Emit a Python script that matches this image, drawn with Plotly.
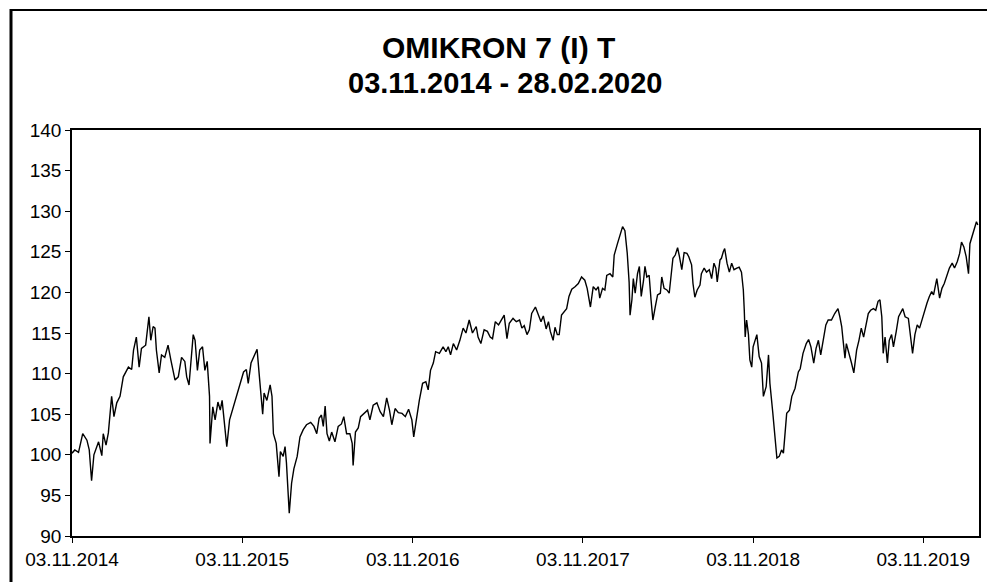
import pandas as pd
import plotly.graph_objects as go

title_text = "OMIKRON 7 (I) T"
subtitle_text = "03.11.2014 - 28.02.2020"
start_date = "2014-11-03"
end_date = "2020-02-28"

tick_dates = ["2014-11-03", "2015-11-03", "2016-11-03", "2017-11-03", "2018-11-03", "2019-11-03"]
tick_labels = ["03.11.2014", "03.11.2015", "03.11.2016", "03.11.2017", "03.11.2018", "03.11.2019"]
y_ticks = [90, 95, 100, 105, 110, 115, 120, 125, 130, 135, 140]

# days since 03.11.2014
day_offsets = [
    0, 6, 14, 23, 32, 37, 42, 47, 57, 64, 67, 73, 78, 85, 90, 96, 103, 110, 121, 128, 132, 138, 144,
    149, 158, 165, 169, 174, 178, 181, 187, 192, 199, 206, 212, 221, 228, 235, 242, 246, 251, 254, 260,
    264, 269, 274, 280, 285, 290, 295, 296, 302, 307, 313, 318, 322, 326, 332, 338, 346, 353, 361, 368,
    374, 378, 384, 391, 397, 402, 409, 412, 418, 425, 429, 432, 438,
    444, 447, 453, 457, 460, 466, 471, 476, 483, 489, 496, 503, 512, 519, 525, 530, 535, 539, 543, 547,
    552, 557, 564, 571, 578, 583, 589, 596, 601, 603, 608, 614, 619, 626, 634, 639, 646, 654, 661, 668,
    675, 681, 686, 693, 700, 708, 715, 722, 729,
    733, 739, 745, 752, 759, 764, 769, 775, 780, 788, 796, 802, 807, 812, 818, 825, 832, 839, 845, 852,
    859, 867, 871, 877, 884, 891, 897, 902, 908, 915, 922, 927, 933, 938, 946, 953, 960, 965, 970, 976,
    981, 986, 994, 998, 1006, 1011, 1017, 1022,
    1026, 1032, 1036, 1041, 1045, 1050, 1055, 1061, 1066, 1072, 1079, 1086, 1093, 1100, 1105, 1112, 1118,
    1124, 1129, 1132, 1138, 1143, 1147, 1154, 1160, 1163, 1170, 1175, 1181, 1186, 1191, 1195, 1197, 1201,
    1204, 1208, 1213, 1217, 1221, 1226, 1229, 1233, 1238, 1242, 1246, 1251, 1256, 1262, 1265, 1270, 1276,
    1281, 1285, 1289, 1294, 1299, 1303, 1308, 1313, 1319,
    1323, 1329, 1332, 1336, 1341, 1347, 1350, 1356, 1361, 1367, 1372, 1377, 1381, 1384, 1390, 1393, 1397,
    1400, 1405, 1410, 1415, 1420, 1426, 1431, 1436, 1440, 1442, 1444, 1447, 1451, 1454, 1458, 1461, 1469,
    1474, 1479, 1483, 1489, 1494, 1497, 1503, 1508, 1512, 1517, 1522, 1526, 1530, 1533, 1539, 1544, 1551,
    1558, 1562, 1568, 1575, 1580, 1585, 1591, 1596, 1601, 1606,
    1611, 1617, 1622, 1629, 1636, 1643, 1647, 1651, 1654, 1658, 1661, 1667, 1672, 1677, 1683, 1688, 1693,
    1698, 1703, 1708, 1713, 1719, 1724, 1729, 1733, 1737, 1740, 1744, 1749, 1753, 1758, 1762, 1768, 1773,
    1782, 1787, 1794, 1799, 1803, 1808, 1813, 1818, 1823, 1828, 1834, 1839, 1844, 1848, 1855, 1861, 1866,
    1871, 1877, 1882, 1888, 1893, 1899, 1904,
    1908, 1913, 1918, 1923, 1926, 1932, 1937, 1940, 1943,
]

index_values = [
    100.2, 100.6, 100.3, 102.6, 101.8, 100.6, 96.8, 100.0, 101.6, 99.9, 102.6, 101.2, 102.7, 107.2, 104.7,
    106.4, 107.2, 109.6, 110.8, 110.5, 112.9, 114.5, 110.8,
    113.1, 113.5, 117.0, 114.1, 115.8, 115.6, 112.9, 110.1, 112.3, 112.0, 113.5, 111.7, 109.2, 109.6, 112.0,
    111.5, 109.6, 108.6, 110.8, 114.8, 114.1, 110.4, 112.9, 113.3, 110.4, 111.5, 107.2, 101.4, 105.9, 104.3,
    106.5, 105.5, 106.7, 104.7, 101.0, 104.3, 105.9, 107.0, 108.8, 110.2, 110.5, 108.8, 111.3, 112.2, 113.0,
    109.6, 105.0, 107.6, 106.7, 108.6, 107.2, 102.6, 101.4,
    97.3, 100.4, 99.8, 101.0, 99.0, 92.8, 96.5, 98.3, 99.8, 102.2, 103.1, 103.7, 104.0, 103.5, 102.6, 104.5,
    104.9, 103.5, 106.0, 102.6, 101.7, 102.8, 101.6, 103.5, 103.8, 104.7, 102.6, 102.6, 101.4, 98.7, 102.8,
    103.3, 104.7, 105.1, 105.5, 104.3, 106.1, 106.4, 105.3, 104.7, 107.0, 105.5, 103.7, 105.7, 105.2, 105.1,
    104.7, 105.6, 104.3,
    102.2, 104.7, 106.7, 108.8, 109.0, 108.0, 110.4, 111.3, 112.7, 112.5, 113.3, 112.7, 113.3, 112.3, 113.7,
    112.9, 114.1, 115.6, 115.0, 116.6, 115.0, 115.8, 114.5, 113.7, 115.4, 115.2, 114.5, 114.3, 116.4, 116.0,
    116.8, 117.2, 114.3, 116.2, 116.8, 116.4, 116.6, 115.6, 115.9, 114.8, 115.4, 117.4, 118.2, 117.6, 116.4,
    117.1, 115.5, 116.4,
    115.2, 114.1, 115.7, 114.8, 114.8, 117.2, 117.6, 118.0, 119.5, 120.4, 120.7, 121.1, 121.9, 121.5, 120.5,
    118.2, 120.7, 120.3, 120.7, 119.3, 120.5, 120.3, 122.1, 122.3, 121.9, 124.6, 126.0, 127.1, 128.1, 127.6,
    124.8, 121.3, 117.2, 119.1, 121.7, 119.9, 122.3, 123.2, 119.5, 121.5, 123.2, 121.9, 122.1, 119.1, 116.6,
    118.2, 119.7, 119.9, 121.9, 120.5, 120.3, 119.9, 121.9, 124.2, 124.6, 125.5, 124.4, 122.8, 124.9, 124.8,
    124.4, 123.4, 121.1, 119.4, 120.3, 120.9, 122.3, 123.0, 122.5, 122.8, 121.7, 123.6, 123.0, 121.3, 124.0,
    124.2, 125.0, 125.4, 123.6, 122.5, 123.6, 122.8, 123.0, 123.1, 122.5, 120.3, 117.8, 114.5, 116.6, 114.8,
    111.7, 110.8, 113.3, 114.8, 112.1, 111.3, 107.2, 108.4, 112.3, 108.8, 105.3, 102.6, 99.6, 99.8, 100.6,
    100.2, 103.5, 105.1, 105.5, 107.2, 108.2, 110.2, 110.6, 112.5, 113.7, 114.2, 113.3, 111.3, 113.1, 114.1,
    112.3,
    114.1, 116.0, 116.6, 116.6, 117.4, 118.0, 117.0, 115.8, 114.1, 111.9, 113.7, 112.5, 111.3, 110.1, 112.9,
    114.1, 115.6, 114.5, 115.8, 117.4, 117.8, 118.0, 117.8, 118.9, 119.1, 117.0, 112.5, 114.5, 111.3, 114.1,
    114.8, 113.3, 115.2, 117.0, 118.0, 117.0, 116.8, 114.5, 112.5, 114.8, 116.0, 115.6, 116.6, 117.8, 118.7,
    119.5, 120.1, 119.7, 121.7, 119.3, 120.5, 121.1, 122.1, 123.0, 123.6, 123.0, 123.8, 124.8,
    126.2, 125.6, 124.4, 122.3, 126.0, 127.1, 127.9, 128.7, 128.3,
]

assert len(day_offsets) == len(index_values)
dates = pd.Timestamp(start_date) + pd.to_timedelta(day_offsets, unit="D")

FONT = "Liberation Sans, Arial, sans-serif"

fig = go.Figure()
fig.add_trace(go.Scatter(
    x=dates, y=index_values, mode="lines",
    line=dict(color="#000000", width=1.4),
    showlegend=False, hoverinfo="x+y",
))

# the page body has an 8px margin, so figure coords = screen coords - 8
OFF = 8
L, R, T, B = 72 - OFF, 979 - OFF, 130 - OFF, 536 - OFF
FW, FH = 995, 582
W, H = R - L, B - T
def px(sx):
    return (sx - OFF - L) / W
def py(sy):
    return (B - (sy - OFF)) / H

fig.update_layout(
    width=FW, height=FH,
    margin=dict(l=L, r=FW - R, t=T, b=FH - B),
    paper_bgcolor="white", plot_bgcolor="white",
    font=dict(family=FONT, color="black"),
    annotations=[
        dict(text="<b>" + title_text + "</b>", xref="paper", yref="paper",
             x=px(498), y=py(47), xanchor="center", yanchor="middle",
             showarrow=False, font=dict(family=FONT, size=30, color="black")),
        dict(text="<b>" + subtitle_text + "</b>", xref="paper", yref="paper",
             x=px(505), y=py(83), xanchor="center", yanchor="middle",
             showarrow=False, font=dict(family=FONT, size=29, color="black")),
    ],
    shapes=[
        dict(type="line", xref="paper", yref="paper", x0=px(11), x1=px(11), y0=py(9), y1=py(590),
             line=dict(color="black", width=3)),
        dict(type="line", xref="paper", yref="paper", x0=px(10), x1=px(1000), y0=py(10), y1=py(10),
             line=dict(color="black", width=2)),
    ],
)

fig.update_xaxes(
    type="date",
    range=[start_date, "2020-03-01 12:00"],
    tickvals=tick_dates, ticktext=tick_labels,
    ticks="outside", ticklen=5, tickwidth=1.2, tickcolor="black",
    showline=True, linecolor="black", linewidth=1.5, mirror=True,
    showgrid=False, zeroline=False,
    tickfont=dict(family=FONT, size=19, color="black"),
)
fig.update_yaxes(
    range=[90, 140], tickvals=y_ticks,
    ticks="outside", ticklen=5, tickwidth=1.2, tickcolor="black",
    showline=True, linecolor="black", linewidth=1.5, mirror=True,
    showgrid=False, zeroline=False,
    tickfont=dict(family=FONT, size=19, color="black"),
)

fig.write_html("out.html")
